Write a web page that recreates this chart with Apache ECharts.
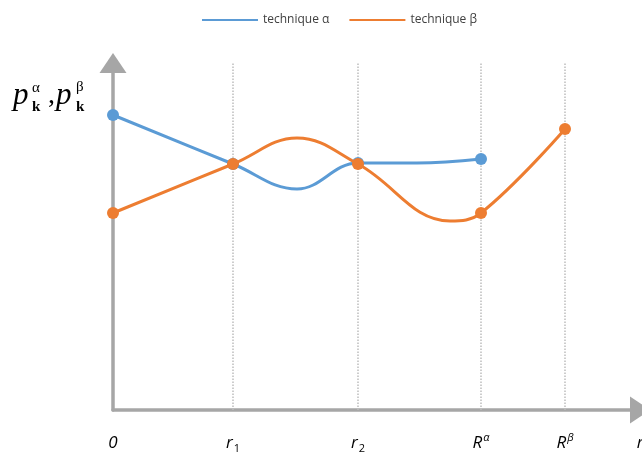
<!DOCTYPE html>
<html><head><meta charset="utf-8">
<script src="https://cdn.jsdelivr.net/npm/echarts@6/dist/echarts.min.js"></script>
<style>html,body{margin:0;padding:0;background:#fff}#c{width:642px;height:453px}</style>
</head><body><div id="c"></div>
<script>
// x positions (arbitrary units) of the named abscissae
var tickValues = [0, 120, 245, 368, 452, 527];
var tickLabels = ['{m|0}', '{m|r}{sub|1}', '{m|r}{sub|2}', '{m|R}{sup|α}', '{m|R}{sup|β}', '{m|r}'];
var gridLines = [120, 245, 368, 452];
// technique α : x, p, marker flag
var alphaX = [0, 120, 184, 245, 304, 368];
var alphaY = [295, 246, 221, 247, 247, 251];
var alphaMark = [1, 1, 0, 1, 0, 1];
// technique β
var betaX = [0, 120, 184, 245, 337, 368, 452];
var betaY = [197, 246, 272, 246, 189, 197, 281];
var betaMark = [1, 1, 0, 1, 0, 1, 1];

function build(xs, ys, ms) {
  return xs.map(function (x, i) {
    return ms[i] ? { value: [x, ys[i]] } : { value: [x, ys[i]], symbol: 'none' };
  });
}

var axisColor = '#a6a6a6';
var chart = echarts.init(document.getElementById('c'));
chart.setOption({
  animation: false,
  grid: { left: 113, right: 2, top: 63, bottom: 43, outerBoundsMode: 'none', containLabel: false },
  legend: {
    data: ['technique α', 'technique β'],
    left: 197, top: 9,
    icon: 'rect', itemWidth: 56, itemHeight: 2, itemGap: 20,
    itemStyle: { borderWidth: 0 },
    textStyle: { fontFamily: 'Open Sans', fontSize: 12, color: '#404040' }
  },
  xAxis: {
    type: 'value', min: 0, max: 527,
    axisLine: { lineStyle: { color: axisColor, width: 3.5 }, symbol: ['none', 'triangle'], symbolSize: [27, 20] },
    axisTick: { show: false },
    splitLine: { show: false },
    axisLabel: {
      customValues: tickValues, margin: 22,
      formatter: function (v) { var i = tickValues.indexOf(v); return i >= 0 ? tickLabels[i] : ''; },
      rich: {
        m: { fontFamily: 'Open Sans', fontStyle: 'italic', fontSize: 17, color: '#000', lineHeight: 22, verticalAlign: 'middle' },
        sub: { fontFamily: 'Open Sans', fontSize: 11, color: '#000', lineHeight: 20, verticalAlign: 'bottom', padding: [0,0,0,1] },
        sup: { fontFamily: 'Open Sans', fontStyle: 'italic', fontSize: 11, color: '#000', lineHeight: 22, verticalAlign: 'top', padding: [0,0,0,1] }
      }
    }
  },
  yAxis: {
    type: 'value', min: 0, max: 347,
    axisLine: { show: true, lineStyle: { color: axisColor, width: 3.5 }, symbol: ['none', 'triangle'], symbolSize: [27, 20] },
    axisTick: { show: false }, axisLabel: { show: false }, splitLine: { show: false }
  },
  graphic: [
    { type: 'text', x: 13, y: 96, style: { text: 'p', font: 'italic 31px "Liberation Serif"', fill: '#000', verticalAlign: 'middle' } },
    { type: 'text', x: 32, y: 88, style: { text: 'α', font: '15px "Liberation Serif"', fill: '#000', verticalAlign: 'middle' } },
    { type: 'text', x: 32, y: 107, style: { text: 'k', font: 'bold 15px "Liberation Serif"', fill: '#000', verticalAlign: 'middle' } },
    { type: 'text', x: 48, y: 96, style: { text: ',', font: '28px "Liberation Serif"', fill: '#000', verticalAlign: 'middle' } },
    { type: 'text', x: 56, y: 96, style: { text: 'p', font: 'italic 31px "Liberation Serif"', fill: '#000', verticalAlign: 'middle' } },
    { type: 'text', x: 76, y: 87, style: { text: 'β', font: '15px "Liberation Serif"', fill: '#000', verticalAlign: 'middle' } },
    { type: 'text', x: 76, y: 107, style: { text: 'k', font: 'bold 15px "Liberation Serif"', fill: '#000', verticalAlign: 'middle' } }
  ],
  series: [
    {
      name: 'guides', type: 'line', data: [], z: 1, silent: true,
      markLine: {
        silent: true, z: 1, symbol: ['none', 'none'], label: { show: false },
        lineStyle: { type: 'dotted', color: '#bdbdbd', width: 1.5 },
        data: gridLines.map(function (v) { return { xAxis: v }; })
      }
    },
    {
      name: 'technique α', type: 'line', smooth: 0.4, z: 3,
      data: build(alphaX, alphaY, alphaMark),
      symbol: 'circle', symbolSize: 12,
      lineStyle: { color: '#5b9bd5', width: 3 },
      itemStyle: { color: '#5b9bd5' }
    },
    {
      name: 'technique β', type: 'line', smooth: 0.4, z: 4,
      data: build(betaX, betaY, betaMark),
      symbol: 'circle', symbolSize: 12,
      lineStyle: { color: '#ed7d31', width: 3 },
      itemStyle: { color: '#ed7d31' }
    }
  ]
});
</script></body></html>
